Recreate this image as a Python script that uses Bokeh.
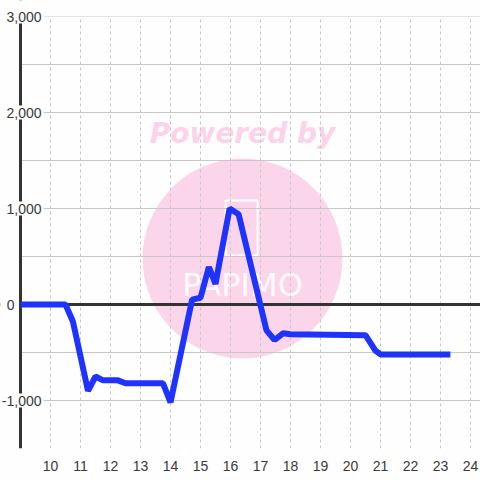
from bokeh.plotting import figure
from bokeh.models import FixedTicker, Span, Label, BoxAnnotation
from bokeh.core.properties import value
from bokeh.embed import file_html
from bokeh.resources import INLINE

# ---- data ----
hours = [9.0, 10.5, 10.75, 11.25, 11.5, 11.75, 12.25, 12.5, 13.75, 14.0,
         14.72, 15.0, 15.28, 15.5, 15.97, 16.27, 17.2, 17.47, 17.75, 18.0,
         20.5, 20.83, 21.0, 23.33]
values = [0, 0, -180, -900, -750, -790, -790, -820, -820, -1020,
          50, 70, 390, 215, 1000, 940, -270, -370, -300, -310,
          -320, -480, -520, -520]

x_ticks = list(range(10, 25))
y_grid_ticks = [-1000, -500, 0, 500, 1000, 1500, 2000, 2500, 3000]
y_label_values = [3000, 2000, 1000, 0, -1000]
y_label_texts = ["3,000", "2,000", "1,000", "0", "-1,000"]

AXIS_X = 9.0               # where the vertical axis sits
Y_TOP = 3000               # top of the value axis
X_VIEW_MIN, X_MAX = 8.3333, 24.3333
Y_MIN, Y_VIEW_MAX = -1500, 3166.67

BG = "#fdfefd"
TEXT = "#3a3a3a"
FONT = "Liberation Sans"

p = figure(width=480, height=480, x_range=(X_VIEW_MIN, X_MAX), y_range=(Y_MIN, Y_VIEW_MAX),
           output_backend="svg", toolbar_location=None,
           min_border_left=0, min_border_right=0, min_border_top=0, min_border_bottom=32,
           background_fill_color=BG, border_fill_color=BG)
p.styles = {"position": "absolute", "left": "0px", "top": "0px"}
p.outline_line_color = None
p.yaxis.visible = False

xa = p.xaxis[0]
xa.ticker = FixedTicker(ticks=x_ticks)
xa.axis_line_color = None
xa.major_tick_line_color = None
xa.minor_tick_line_color = None
xa.major_label_text_font_size = "14px"
xa.major_label_text_color = TEXT
xa.major_label_text_font = FONT
xa.major_label_standoff = 6

p.xgrid.ticker = FixedTicker(ticks=x_ticks)
p.xgrid.grid_line_color = "#c8c8c8"
p.xgrid.grid_line_dash = "3 3"
p.ygrid.ticker = FixedTicker(ticks=y_grid_ticks)
p.ygrid.grid_line_color = "#c8c8c8"

# ---- watermark (background decoration) ----
WM_X = 16.4
p.scatter(x=[WM_X], y=[480], size=200, marker="circle", fill_color="#fbd6eb",
          line_color=None, level="image")
p.text(x=[WM_X], y=[1781], text=["Powered by"], text_font=value("DejaVu Sans"),
       text_font_style="bold italic", text_font_size="28px", text_color="#fcd3ea",
       text_align="center", text_baseline="middle", level="image")
p.rect(x=[16.37], y=[797], width=32, height=55, width_units="screen",
       height_units="screen", fill_color=None, line_color="white", line_width=2,
       level="image")
p.text(x=[WM_X], y=[198], text=["PAPIMO"], text_font=value("DejaVu Sans"),
       text_font_size="32px", text_color="white", text_alpha=0.9,
       text_align="center", text_baseline="middle", level="image")

# ---- zero line, blank strips outside the axes, axis line ----
p.add_layout(Span(location=0, dimension="width", line_color="#333333",
                  line_width=3, level="underlay"))
p.add_layout(BoxAnnotation(right=AXIS_X, fill_color=BG, fill_alpha=1.0,
                           line_color=None, level="underlay"))
p.add_layout(Span(location=AXIS_X, dimension="height", line_color="#333333",
                  line_width=3, level="underlay"))
p.add_layout(BoxAnnotation(bottom=Y_TOP, fill_color=BG, fill_alpha=1.0,
                           line_color=None, level="underlay"))
p.ygrid.level = "underlay"

# ---- data line ----
p.line(hours, values, line_width=6, line_color="#1f33ff")

# ---- y labels ----
for v, t in zip(y_label_values, y_label_texts):
    off = -4 if v == 0 else 23
    p.add_layout(Label(x=AXIS_X, y=v, x_offset=off, text=t, text_align="right",
                       text_baseline="middle", text_font_size="14px",
                       text_color=TEXT, text_font=FONT,
                       background_fill_color=BG, padding=2))

open("out.html", "w").write(file_html(p, INLINE))
